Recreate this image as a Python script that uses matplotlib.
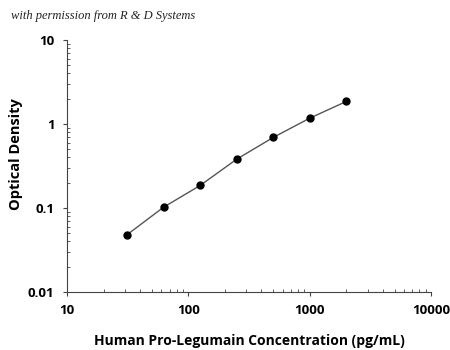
import matplotlib
matplotlib.use("Agg")
import matplotlib.pyplot as plt
from matplotlib.ticker import LogLocator, FixedLocator

# standard curve values
conc = [31.25, 62.5, 125, 250, 500, 1000, 2000]
od = [0.048, 0.102, 0.185, 0.38, 0.69, 1.17, 1.85]

xticks = [10, 100, 1000, 10000]
xlabels = ["10", "100", "1000", "10000"]
yticks = [0.01, 0.1, 1, 10]
ylabels = ["0.01", "0.1", "1", "10"]

plt.rcParams['font.family'] = ['Open Sans', 'DejaVu Sans']

fig = plt.figure(figsize=(4.5, 3.5), dpi=100)
ax = fig.add_axes([0.149, 0.166, 0.809, 0.72])

ax.plot(conc, od, color="#555555", lw=1.0, zorder=2)
ax.plot(conc, od, "o", color="black", ms=5, zorder=3)

ax.set_xscale("log")
ax.set_yscale("log")
ax.set_xlim(10, 10000)
ax.set_ylim(0.01, 10)

ax.xaxis.set_major_locator(FixedLocator(xticks))
ax.set_xticklabels(xlabels)
ax.yaxis.set_major_locator(FixedLocator(yticks))
ax.set_yticklabels(ylabels)
ax.xaxis.set_minor_locator(LogLocator(base=10, subs=range(2, 10)))
ax.yaxis.set_minor_locator(LogLocator(base=10, subs=range(2, 10)))

ax.spines["top"].set_visible(False)
ax.spines["right"].set_visible(False)
for s in ("left", "bottom"):
    ax.spines[s].set_color("#444444")
    ax.spines[s].set_linewidth(0.8)

ax.tick_params(which="major", direction="out", length=3, width=0.8,
               color="#444444", labelsize=9.5, pad=6)
ax.tick_params(which="minor", direction="in", length=2, width=0.6,
               color="#444444")
for lab in ax.get_xticklabels() + ax.get_yticklabels():
    lab.set_fontweight("bold")

ax.set_xlabel("Human Pro-Legumain Concentration (pg/mL)",
              fontsize=10, fontweight="bold", labelpad=12)
ax.set_ylabel("Optical Density", fontsize=10.5, fontweight="bold")
ax.yaxis.set_label_coords(-0.12, 0.545)

fig.text(0.025, 0.945, "with permission from R & D Systems",
         fontsize=9, style="italic", family="Liberation Serif", color="#222222")

fig.savefig("out.png", dpi=100)
